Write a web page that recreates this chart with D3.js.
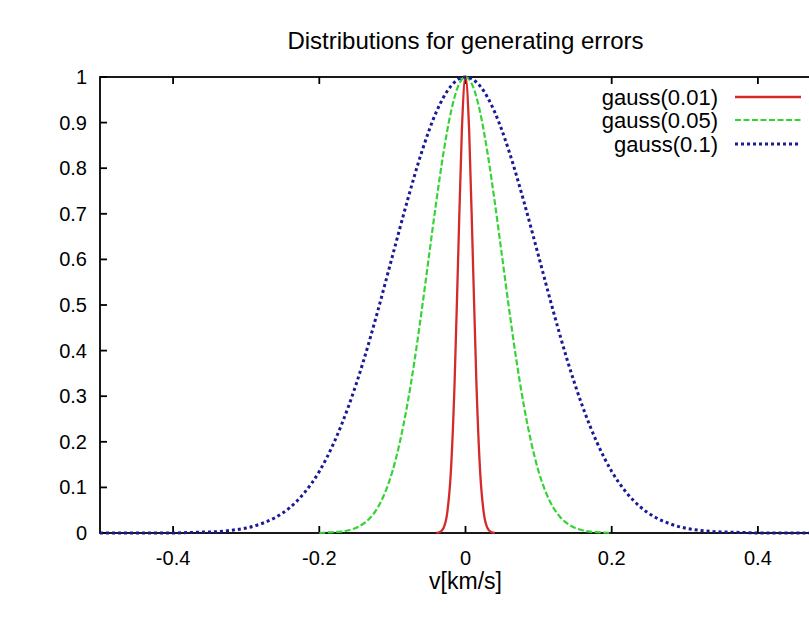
<!DOCTYPE html>
<html>
<head>
<meta charset="utf-8">
<script src="https://cdn.jsdelivr.net/npm/d3@7"></script>
<style>
  body { margin: 0; background: #fff; overflow: hidden; }
  svg { display: block; font-family: "Liberation Sans", Arial, sans-serif; }
</style>
</head>
<body>
<div id="chart"></div>
<script>
// Values (x in km/s, y normalised 0..1)
const blueX = [-0.50,-0.48,-0.46,-0.44,-0.42,-0.40,-0.38,-0.36,-0.34,-0.32,-0.30,-0.28,-0.26,-0.24,-0.22,-0.20,-0.18,-0.16,-0.14,-0.12,-0.10,-0.08,-0.06,-0.04,-0.02,0,
               0.02,0.04,0.06,0.08,0.10,0.12,0.14,0.16,0.18,0.20,0.22,0.24,0.26,0.28,0.30,0.32,0.34,0.36,0.38,0.40,0.42,0.44,0.46,0.48,0.50];
const blueY = [0,0,0,0,0,0,0.001,0.002,0.003,0.006,0.011,0.020,0.034,0.056,0.089,0.135,0.198,0.278,0.375,0.487,0.607,0.726,0.835,0.923,0.980,1,
               0.980,0.923,0.835,0.726,0.607,0.487,0.375,0.278,0.198,0.135,0.089,0.056,0.034,0.020,0.011,0.006,0.003,0.002,0.001,0,0,0,0,0,0];

const greenX = [-0.20,-0.19,-0.18,-0.17,-0.16,-0.15,-0.14,-0.13,-0.12,-0.11,-0.10,-0.09,-0.08,-0.07,-0.06,-0.05,-0.04,-0.03,-0.02,-0.01,0,
                0.01,0.02,0.03,0.04,0.05,0.06,0.07,0.08,0.09,0.10,0.11,0.12,0.13,0.14,0.15,0.16,0.17,0.18,0.19,0.20];
const greenY = [0,0.001,0.002,0.003,0.006,0.011,0.020,0.034,0.056,0.089,0.135,0.198,0.278,0.375,0.487,0.607,0.726,0.835,0.923,0.980,1,
                0.980,0.923,0.835,0.726,0.607,0.487,0.375,0.278,0.198,0.135,0.089,0.056,0.034,0.020,0.011,0.006,0.003,0.002,0.001,0];

const redX = [-0.040,-0.035,-0.030,-0.025,-0.020,-0.015,-0.010,-0.005,0,0.005,0.010,0.015,0.020,0.025,0.030,0.035,0.040];
const redY = [0,0.002,0.011,0.044,0.135,0.325,0.607,0.882,1,0.882,0.607,0.325,0.135,0.044,0.011,0.002,0];

const seriesNames = ["gauss(0.01)", "gauss(0.05)", "gauss(0.1)"];
const xTicks = [-0.4, -0.2, 0, 0.2, 0.4];
const xTickLabels = ["-0.4", "-0.2", "0", "0.2", "0.4"];
const yTicks = [0, 0.1, 0.2, 0.3, 0.4, 0.5, 0.6, 0.7, 0.8, 0.9, 1];
const yTickLabels = ["0", "0.1", "0.2", "0.3", "0.4", "0.5", "0.6", "0.7", "0.8", "0.9", "1"];

const series = [
    { name: seriesNames[0], xs: redX, ys: redY, color: "#d42a2a", width: 2.3, dash: null },
    { name: seriesNames[1], xs: greenX, ys: greenY, color: "#35d435", width: 2.2, dash: "6,2.5" },
    { name: seriesNames[2], xs: blueX, ys: blueY, color: "#1a1a96", width: 3, dash: "3,3" }
];

const W = 809, H = 626;
// plot box runs past the right edge of the picture, as in the original
const x = d3.scaleLinear().domain([-0.5, 0.5]).range([100, 831]);
const y = d3.scaleLinear().domain([0, 1]).range([533, 77]);

const svg = d3.select("#chart").append("svg")
    .attr("width", W)
    .attr("height", H);

// title
svg.append("text")
    .attr("x", x(0))
    .attr("y", 49)
    .attr("text-anchor", "middle")
    .style("font-size", "24px")
    .text("Distributions for generating errors");

// frame
svg.append("rect")
    .attr("x", x(-0.5))
    .attr("y", y(1))
    .attr("width", x(0.5) - x(-0.5))
    .attr("height", y(0) - y(1))
    .attr("fill", "none")
    .attr("stroke", "#000")
    .attr("stroke-width", 1.8);

// inward ticks, mirrored on top
const tickLen = 7;
xTicks.forEach((t, i) => {
    svg.append("line").attr("x1", x(t)).attr("x2", x(t)).attr("y1", y(0)).attr("y2", y(0) - tickLen)
        .attr("stroke", "#000").attr("stroke-width", 1.8);
    svg.append("line").attr("x1", x(t)).attr("x2", x(t)).attr("y1", y(1)).attr("y2", y(1) + tickLen)
        .attr("stroke", "#000").attr("stroke-width", 1.8);
    svg.append("text")
        .attr("x", x(t))
        .attr("y", 565)
        .attr("text-anchor", "middle")
        .style("font-size", "20px")
        .text(xTickLabels[i]);
});
yTicks.forEach((t, i) => {
    svg.append("line").attr("x1", x(-0.5)).attr("x2", x(-0.5) + tickLen).attr("y1", y(t)).attr("y2", y(t))
        .attr("stroke", "#000").attr("stroke-width", 1.8);
    svg.append("text")
        .attr("x", 87)
        .attr("y", y(t))
        .attr("dy", "0.35em")
        .attr("text-anchor", "end")
        .style("font-size", "20px")
        .text(yTickLabels[i]);
});

// x label
svg.append("text")
    .attr("x", x(0))
    .attr("y", 589)
    .attr("text-anchor", "middle")
    .style("font-size", "23px")
    .text("v[km/s]");

// curves
const line = d3.line()
    .x(d => x(d[0]))
    .y(d => y(d[1]))
    .curve(d3.curveMonotoneX);

series.forEach(s => {
    const pts = s.xs.map((v, i) => [v, s.ys[i]]);
    svg.append("path")
        .datum(pts)
        .attr("fill", "none")
        .attr("stroke", s.color)
        .attr("stroke-width", s.width)
        .attr("stroke-dasharray", s.dash)
        .attr("d", line);
});

// legend
const legendY = [97, 120, 144];
series.forEach((s, i) => {
    svg.append("text")
        .attr("x", 718)
        .attr("y", legendY[i])
        .attr("dy", "0.35em")
        .attr("text-anchor", "end")
        .style("font-size", "22px")
        .text(s.name);
    svg.append("line")
        .attr("x1", 735).attr("x2", 801)
        .attr("y1", legendY[i]).attr("y2", legendY[i])
        .attr("stroke", s.color)
        .attr("stroke-width", s.width)
        .attr("stroke-dasharray", s.dash);
});
</script>
</body>
</html>
